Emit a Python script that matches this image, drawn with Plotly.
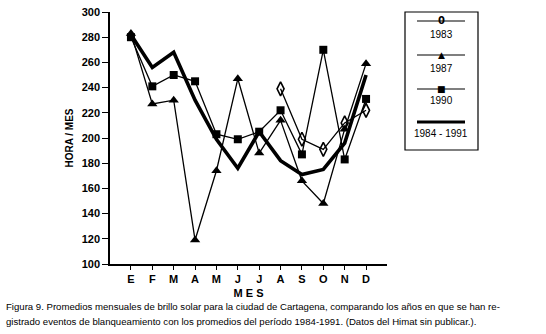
import plotly.graph_objects as go

# ---- data ----
months = ["E", "F", "M", "A", "M", "J", "J", "A", "S", "O", "N", "D"]
x_idx = list(range(12))
y1983 = [None, None, None, None, None, None, None, 239, 199, 191, 212, 222]
y1987 = [283, 227, 230, 119, 174, 247, 188, 214, 166, 148, 207, 259]
y1990 = [280, 241, 250, 245, 203, 199, 205, 222, 187, 270, 183, 231]
y8491 = [282, 256, 268, 230, 199, 176, 205, 182, 171, 175, 196, 250]
yticks = [100, 120, 140, 160, 180, 200, 220, 240, 260, 280, 300]

W, H = 546, 334
L, R, T, B = 110, 159, 12, 70
pw, ph = W - L - R, H - T - B


def px(xp):
    return (xp - L) / pw


def py(yp):
    return (H - B - yp) / ph


fig = go.Figure()
fig.add_trace(go.Scatter(x=x_idx, y=y8491, mode="lines",
                         line=dict(color="black", width=3.6), name="1984-1991"))
fig.add_trace(go.Scatter(x=x_idx, y=y1987, mode="lines+markers",
                         line=dict(color="black", width=1.3),
                         marker=dict(symbol="triangle-up", size=9, color="black"), name="1987"))
fig.add_trace(go.Scatter(x=x_idx, y=y1990, mode="lines+markers",
                         line=dict(color="black", width=1.3),
                         marker=dict(symbol="square", size=8, color="black"), name="1990"))
fig.add_trace(go.Scatter(x=x_idx, y=y1983, mode="lines+markers",
                         line=dict(color="black", width=1.3),
                         marker=dict(symbol="diamond-tall-open", size=10, color="black",
                                     line=dict(width=1.6, color="black")), name="1983"))

tickfont = dict(family="Liberation Sans, Arial", size=11, color="black", weight="bold")
titlefont = dict(family="Liberation Sans, Arial", size=11, color="black", weight="bold")
fig.update_xaxes(range=[-0.98, 11.98], tickmode="array", tickvals=x_idx, ticktext=months,
                 showline=True, linecolor="black", linewidth=1.5, ticks="outside",
                 ticklen=4, tickcolor="black", showgrid=False, zeroline=False,
                 tickfont=tickfont,
                 title=dict(text="M E S", font=titlefont, standoff=5))
fig.update_yaxes(range=[100, 300], tickmode="array", tickvals=yticks,
                 showline=True, linecolor="black", linewidth=1.5, ticks="outside",
                 ticklen=6, tickcolor="black", showgrid=False, zeroline=False,
                 tickfont=tickfont,
                 title=dict(text="HORA / MES", font=dict(titlefont, size=10), standoff=6))

annotations = []
shapes = []


def ann(x, y, text, font, xanchor="center", yanchor="middle", **kw):
    d = dict(xref="paper", yref="paper", x=x, y=y, text=text, showarrow=False,
             xanchor=xanchor, yanchor=yanchor, font=font)
    d.update(kw)
    annotations.append(d)


# caption
cap1 = "Figura 9. Promedios mensuales de brillo solar para la ciudad de Cartagena, comparando los años en que se han re-"
cap2 = "gistrado eventos de blanqueamiento con los promedios del período 1984-1991. (Datos del Himat sin publicar.)."
capfont = dict(family="Liberation Sans, Arial", size=9.6, color="black")
ann(px(4), py(306), cap1, capfont, xanchor="left")
ann(px(4), py(321), cap2, capfont, xanchor="left")

# custom legend
shapes.append(dict(type="rect", xref="paper", yref="paper", x0=px(405), x1=px(478),
                   y0=py(150), y1=py(12), line=dict(color="black", width=1.2)))
leg = [("1983", 21, 34, 1.2, "0"), ("1987", 55, 68, 1.2, "▲"),
       ("1990", 89, 101, 1.2, "■"), ("1984 - 1991", 122, 133, 3.2, "")]
for name, ly, ty, lw, sym in leg:
    shapes.append(dict(type="line", xref="paper", yref="paper", x0=px(417), x1=px(465),
                       y0=py(ly), y1=py(ly), line=dict(color="black", width=lw)))
    if sym:
        ann(px(441), py(ly), sym,
            dict(family="DejaVu Sans", size=9 if sym != "0" else 10, color="black", weight="bold"))
    ann(px(441), py(ty), name, dict(family="Liberation Sans, Arial", size=10, color="black"))

fig.update_layout(width=W, height=H, margin=dict(l=L, r=R, t=T, b=B, autoexpand=False),
                  paper_bgcolor="white", plot_bgcolor="white", showlegend=False,
                  annotations=annotations, shapes=shapes)
fig.write_html("out.html", config={"displayModeBar": False},
               post_script="document.body.style.margin='0px';")
